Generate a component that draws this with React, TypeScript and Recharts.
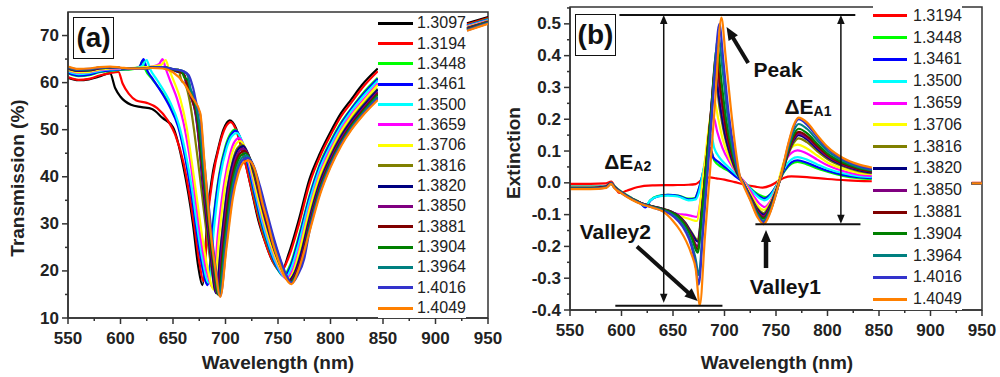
import React from 'react';
import { LineChart, Line, XAxis, YAxis, Legend, ReferenceLine, ReferenceArea, ReferenceDot, Label } from 'recharts';

const FONT = 'Arial, "Liberation Sans", Helvetica, sans-serif';

const wavelengthTicks = [550, 575, 600, 625, 650, 675, 700, 725, 750, 775, 800, 825, 850, 875, 900, 925, 950];
const transTicks = [10, 15, 20, 25, 30, 35, 40, 45, 50, 55, 60, 65, 70];
const extTicks = [-0.4, -0.35, -0.3, -0.25, -0.2, -0.15, -0.1, -0.05, 0, 0.05, 0.1, 0.15, 0.2, 0.25, 0.3, 0.35, 0.4, 0.45, 0.5, 0.55];

const transLabels = ['1.3097', '1.3194', '1.3448', '1.3461', '1.3500', '1.3659', '1.3706', '1.3816', '1.3820', '1.3850', '1.3881', '1.3904', '1.3964', '1.4016', '1.4049'];
const transColors = ['#000000', '#ff0000', '#00ff00', '#0000ff', '#00ffff', '#ff00ff', '#ffff00', '#808000', '#000080', '#800080', '#800000', '#008000', '#008080', '#3333cc', '#ff8000'];
const extLabels = transLabels.slice(1);
const extColors = transColors.slice(1);

// (a) transmission (%) — [wavelength nm, T]
const t13097 = [[550,61],[560,60.5],[570,60.7],[580,61.3],[590,62],[595,58.8],[600,57],[610,55.3],[620,54.8],[630,54.4],[640,52.5],[650,50.5],[660,42],[669,30],[674,21],[678,17],[683,32],[688,41],[692,45],[698,50],[704,52],[710,50.3],[715,46.5],[720,42],[725,37],[731,31],[738,26],[745,22],[750,20.6],[754,20.2],[760,23.5],[770,31],[780,39.5],[790,45],[800,49.5],[810,53.5],[820,56.5],[830,59.5],[845,63],[890,null],[930,72.6],[950,73.9]];
const t13194 = [[550,61.2],[560,60.6],[570,60.8],[580,61.5],[590,62],[598,62.3],[602,59.8],[608,57.6],[615,56.2],[625,55.7],[635,54.6],[645,52],[652,49],[660,43],[670,30],[675,22],[679,17.8],[683,31],[688,40],[694,46.5],[700,50.5],[705,51.6],[710,50],[716,45.5],[722,40],[730,32.5],[738,26],[745,22],[749,20.5],[753,19.9],[760,22.8],[770,30],[780,38.5],[790,44.3],[800,48.8],[810,52.8],[820,55.8],[830,58.8],[845,62.4],[890,null],[930,72.4],[950,73.7]];
const t13448 = [[550,62],[560,61.4],[570,61.6],[580,62.2],[590,62.5],[600,62.7],[610,62.8],[618,63.2],[621,64.6],[624,62.6],[630,60.8],[640,57.8],[647,55.2],[655,51],[662,44],[668,36],[673,28],[678,21],[683,17.2],[688,30],[694,40.5],[700,46.5],[705,49.2],[709,50],[714,48.2],[720,43.5],[727,36.5],[734,30],[741,25],[748,21],[755,19],[762,21.5],[770,27.5],[780,36],[790,42.8],[800,47.5],[810,51.5],[820,54.6],[830,57.5],[845,61],[890,null],[930,72.2],[950,73.5]];
const t13461 = [[550,62.1],[560,61.5],[570,61.7],[580,62.3],[590,62.6],[600,62.8],[610,62.9],[618,63.4],[622,65],[625,62.8],[630,61],[640,57.6],[647,54.8],[655,50.6],[662,43.6],[668,35.6],[673,27.6],[678,20.8],[683,17],[688,29.5],[694,40],[700,46],[705,48.8],[710,49.8],[715,47.8],[720,43.8],[727,37],[734,30.5],[741,25.3],[748,21.2],[756,18.8],[762,21],[770,27],[780,35.6],[790,42.4],[800,47.2],[810,51.2],[820,54.4],[830,57.2],[845,60.8],[890,null],[930,72.1],[950,73.4]];
const t13500 = [[550,62.4],[560,61.8],[570,62],[580,62.5],[590,62.8],[600,62.9],[610,63],[620,63.4],[625,64.8],[628,63],[635,60.5],[642,58],[648,55.5],[655,51.5],[662,45],[668,37.5],[673,29.5],[678,22.5],[684,17.5],[689,29],[695,40],[701,46],[706,48.6],[711,49.3],[716,47.5],[722,43],[728,37],[735,30.5],[742,25.2],[749,21.2],[757,18.5],[763,20.8],[770,26],[780,34.8],[790,41.8],[800,46.6],[810,50.7],[820,54],[830,56.8],[845,60.4],[890,null],[930,72],[950,73.3]];
const t13659 = [[550,62.6],[560,62.1],[570,62.2],[580,62.7],[590,62.9],[600,63],[610,63],[620,63.1],[630,63.4],[637,64],[640,65],[643,63],[648,60],[654,56.5],[660,51.5],[666,44],[671,36],[676,27.5],[681,21],[688,16.5],[693,28.5],[699,39],[704,44.5],[708,47.2],[713,48.2],[718,46.3],[724,41.5],[730,36],[737,29.8],[744,24.8],[751,20.8],[758,18.3],[764,20.2],[770,24.5],[780,33.5],[790,40.8],[800,45.8],[810,50],[820,53.3],[830,56],[845,59.8],[890,null],[930,71.9],[950,73.2]];
const t13706 = [[550,62.7],[560,62.2],[570,62.3],[580,62.8],[590,63],[600,63.1],[610,63.1],[620,63.2],[630,63.4],[639,63.8],[643,64.8],[646,63],[651,60.2],[657,56.5],[663,50.5],[668,43],[673,35],[678,27],[683,20.5],[689,16],[694,27.5],[700,38.5],[705,44],[709,46.6],[714,47.6],[719,46],[725,41.2],[731,35.5],[738,29.5],[745,24.5],[752,20.6],[759,18.2],[765,20],[770,23.8],[780,33],[790,40.3],[800,45.3],[810,49.6],[820,52.9],[830,55.6],[845,59.5],[890,null],[930,71.8],[950,73.1]];
const t13816 = [[550,63],[560,62.5],[570,62.6],[580,63],[590,63.2],[600,63.1],[610,62.9],[620,62.9],[630,63.3],[640,63.3],[650,62.6],[655,62.8],[658,60.5],[662,59.5],[666,56],[670,50],[674,43],[678,35.5],[682,28],[686,21.5],[691,15.5],[696,26.5],[702,38],[707,43.5],[711,46],[716,46.8],[721,45],[727,40.5],[733,35],[740,29],[747,24],[754,20.2],[760,18],[766,19.8],[772,24],[780,31.5],[790,39.2],[800,44.5],[810,48.8],[820,52.2],[830,55],[845,58.7],[890,null],[930,71.6],[950,73]];
const t13820 = [[550,63],[560,62.5],[570,62.6],[580,63],[590,63.2],[600,63.1],[610,62.9],[620,62.9],[630,63.2],[640,63.3],[650,62.7],[655,62.3],[659,62.5],[663,59.5],[667,57],[671,54],[674,49],[678,39],[682,30.5],[686,23],[691,15.3],[696,26],[702,37.5],[707,43],[712,45.8],[717,46.5],[722,44.6],[728,40],[734,34.5],[741,28.6],[748,23.6],[755,19.8],[760,17.9],[766,19.6],[772,23.6],[780,31],[790,38.8],[800,44.1],[810,48.5],[820,51.9],[830,54.7],[845,58.5],[890,null],[930,71.6],[950,72.9]];
const t13850 = [[550,63.1],[560,62.6],[570,62.7],[580,63.1],[590,63.3],[600,63.1],[610,62.9],[620,62.9],[630,63.2],[640,63.3],[650,62.7],[656,62.5],[660,61.8],[664,59],[668,56.5],[672,53],[675,47],[679,38],[683,30],[687,22.5],[692,15.2],[697,26],[703,37.2],[708,42.7],[713,45.4],[717,46],[723,44],[729,39.4],[735,34],[742,28.2],[749,23.2],[755,19.8],[761,17.8],[767,19.5],[773,23.4],[780,30.3],[790,38.2],[800,43.6],[810,48],[820,51.4],[830,54.2],[845,58],[890,null],[930,71.5],[950,72.9]];
const t13881 = [[550,63.1],[560,62.6],[570,62.7],[580,63.1],[590,63.3],[600,63.1],[610,62.9],[620,62.9],[630,63.2],[640,63.3],[650,62.8],[657,62.2],[661,61.5],[665,58.5],[669,56],[673,52.5],[676,46],[680,37.5],[684,29.5],[688,22],[693,15],[698,25.8],[704,37],[709,42.4],[714,45],[718,45.5],[724,43.5],[730,39],[736,33.6],[743,27.8],[750,22.8],[756,19.6],[761,17.7],[767,19.3],[773,23],[780,29.8],[790,37.8],[800,43.2],[810,47.6],[820,51.1],[830,53.9],[845,57.7],[890,null],[930,71.4],[950,72.8]];
const t13904 = [[550,63.2],[560,62.7],[570,62.8],[580,63.2],[590,63.3],[600,63.1],[610,62.9],[620,62.9],[630,63.2],[640,63.3],[650,62.8],[658,62.5],[661,61],[664,60.6],[667,58],[671,55.5],[674,51.5],[677,45],[681,36.5],[685,28.5],[689,21],[693,15],[699,26],[705,37],[710,42.2],[715,44.6],[719,45],[725,43],[731,38.5],[737,33.2],[744,27.5],[751,22.6],[757,19.3],[762,17.6],[768,19.4],[774,23],[780,29.4],[790,37.4],[800,42.9],[810,47.3],[820,50.8],[830,53.6],[845,57.4],[890,null],[930,71.3],[950,72.8]];
const t13964 = [[550,63.2],[560,62.7],[570,62.8],[580,63.2],[590,63.3],[600,63.1],[610,62.9],[620,62.9],[630,63.2],[640,63.3],[650,62.9],[660,62.4],[664,61.5],[667,58.5],[670,57.2],[673,54],[676,50],[679,42.5],[683,34],[687,26],[690,20.5],[694,14.8],[700,26],[706,36.8],[711,41.8],[716,44.1],[720,44.5],[726,42.6],[732,38.2],[738,33],[745,27.3],[752,22.4],[757,19.3],[762,17.5],[768,19.2],[774,22.7],[780,29],[790,37],[800,42.6],[810,47],[820,50.5],[830,53.3],[845,57],[890,null],[930,71.2],[950,72.7]];
const t14016 = [[550,63.3],[560,62.8],[570,62.9],[580,63.2],[590,63.3],[600,63.1],[610,62.9],[620,62.9],[630,63.2],[640,63.3],[650,62.9],[660,62.4],[665,61.6],[669,59],[673,55],[676,53],[679,45],[683,36],[687,27.5],[691,20],[695,14.6],[701,26],[707,36.6],[712,41.5],[717,43.7],[721,44],[727,42.2],[733,37.9],[739,32.8],[746,27],[753,22],[758,19.1],[763,17.4],[769,19.2],[775,22.6],[780,28.5],[790,36.6],[800,42.3],[810,46.8],[820,50.2],[830,53],[845,56.7],[890,null],[930,71.1],[950,72.6]];
const t14049 = [[550,63.4],[560,62.9],[570,63],[580,63.3],[590,63.4],[600,63.2],[610,63],[620,63],[630,63.1],[640,63],[650,62.2],[660,60],[668,57],[676,53.5],[680,43],[685,30],[690,21],[695,14.5],[701,25],[707,35.5],[712,40.5],[717,43],[722,43.5],[728,41.5],[735,34.5],[740,30.5],[745,26],[750,22.5],[756,19],[763,17.2],[770,20.5],[780,28.3],[790,36.2],[800,42],[810,46.5],[820,50],[830,52.8],[845,56.3],[890,null],[930,71],[950,72.5]];

// (b) extinction — [wavelength nm, E]
const e13194 = [[550,-0.003],[570,-0.003],[585,-0.002],[590,0.004],[594,-0.015],[598,-0.032],[605,-0.025],[615,-0.014],[630,-0.008],[650,-0.007],[665,-0.006],[672,-0.004],[678,0.01],[686,0.017],[692,0.014],[700,0.01],[710,0.002],[720,-0.006],[730,-0.012],[737,-0.015],[745,-0.008],[752,0.005],[758,0.016],[765,0.02],[780,0.018],[800,0.012],[820,0.008],[843,0.005],[890,null],[940,0],[950,0]];
const e13448 = [[550,-0.012],[570,-0.012],[585,-0.01],[590,0],[593,-0.01],[600,-0.028],[610,-0.048],[618,-0.062],[623,-0.075],[628,-0.055],[635,-0.042],[645,-0.038],[655,-0.04],[665,-0.05],[671,-0.048],[675,-0.02],[680,0.04],[685,0.09],[687,0.1],[690,0.07],[697,0.05],[705,0.035],[712,0.02],[720,0],[728,-0.025],[735,-0.04],[740,-0.045],[746,-0.03],[752,0],[758,0.035],[765,0.06],[771,0.066],[780,0.058],[790,0.045],[800,0.035],[815,0.022],[830,0.015],[843,0.012],[890,null],[940,-0.002],[950,-0.002]];
const e13461 = [[550,-0.013],[570,-0.013],[585,-0.011],[590,0],[593,-0.011],[600,-0.029],[610,-0.049],[618,-0.063],[623,-0.077],[628,-0.056],[635,-0.043],[645,-0.038],[655,-0.041],[665,-0.052],[671,-0.05],[675,-0.02],[680,0.045],[684,0.1],[686,0.11],[689,0.08],[694,0.066],[702,0.045],[710,0.022],[720,-0.002],[728,-0.028],[734,-0.043],[739,-0.05],[745,-0.035],[752,0],[758,0.038],[765,0.064],[771,0.071],[780,0.063],[790,0.05],[800,0.038],[815,0.025],[830,0.018],[843,0.015],[890,null],[940,-0.002],[950,-0.002]];
const e13500 = [[550,-0.014],[570,-0.014],[585,-0.011],[590,0],[593,-0.011],[600,-0.029],[610,-0.049],[618,-0.063],[623,-0.072],[628,-0.055],[635,-0.043],[645,-0.04],[655,-0.043],[665,-0.055],[672,-0.052],[676,-0.02],[680,0.05],[684,0.12],[687,0.15],[690,0.11],[695,0.08],[702,0.055],[710,0.03],[720,0],[728,-0.03],[734,-0.048],[739,-0.055],[745,-0.04],[752,0],[758,0.045],[765,0.074],[771,0.081],[780,0.073],[790,0.058],[800,0.044],[815,0.03],[830,0.021],[843,0.018],[890,null],[940,-0.002],[950,-0.002]];
const e13659 = [[550,-0.015],[570,-0.015],[585,-0.012],[590,-0.001],[593,-0.012],[600,-0.03],[610,-0.05],[620,-0.065],[630,-0.075],[640,-0.085],[648,-0.092],[655,-0.098],[662,-0.1],[668,-0.104],[673,-0.107],[677,-0.05],[681,0.06],[685,0.15],[689,0.21],[693,0.16],[698,0.11],[705,0.065],[712,0.03],[720,0],[728,-0.04],[734,-0.066],[739,-0.076],[745,-0.055],[752,0],[758,0.06],[765,0.094],[771,0.102],[780,0.092],[790,0.073],[800,0.055],[815,0.037],[830,0.026],[843,0.022],[890,null],[940,-0.002],[950,-0.002]];
const e13706 = [[550,-0.015],[570,-0.015],[585,-0.012],[590,-0.001],[593,-0.012],[600,-0.03],[610,-0.05],[620,-0.065],[630,-0.075],[640,-0.085],[648,-0.093],[655,-0.102],[662,-0.11],[668,-0.116],[673,-0.12],[677,-0.05],[681,0.07],[685,0.18],[690,0.26],[694,0.2],[698,0.14],[705,0.075],[712,0.032],[719,0],[727,-0.045],[733,-0.075],[738,-0.085],[744,-0.065],[751,-0.01],[757,0.06],[764,0.108],[771,0.12],[780,0.108],[790,0.086],[800,0.064],[815,0.044],[830,0.031],[843,0.027],[890,null],[940,-0.002],[950,-0.002]];
const e13816 = [[550,-0.016],[570,-0.016],[585,-0.012],[590,-0.001],[593,-0.012],[600,-0.03],[610,-0.05],[620,-0.065],[630,-0.074],[640,-0.082],[648,-0.09],[655,-0.102],[662,-0.125],[668,-0.155],[674,-0.18],[678,-0.08],[682,0.05],[686,0.18],[691,0.33],[695,0.24],[700,0.15],[706,0.08],[712,0.03],[718,0],[725,-0.04],[732,-0.08],[738,-0.095],[744,-0.07],[750,-0.025],[755,0.02],[762,0.09],[767,0.125],[772,0.14],[780,0.128],[790,0.1],[800,0.075],[815,0.052],[830,0.037],[843,0.03],[890,null],[940,-0.002],[950,-0.002]];
const e13820 = [[550,-0.016],[570,-0.016],[585,-0.012],[590,-0.001],[593,-0.012],[600,-0.03],[610,-0.05],[620,-0.065],[630,-0.074],[640,-0.082],[648,-0.09],[655,-0.103],[662,-0.127],[668,-0.158],[674,-0.185],[678,-0.085],[682,0.05],[686,0.19],[691,0.35],[695,0.26],[700,0.16],[706,0.085],[712,0.032],[718,0],[725,-0.042],[732,-0.084],[738,-0.1],[744,-0.074],[750,-0.026],[755,0.021],[762,0.095],[767,0.133],[772,0.15],[780,0.137],[790,0.107],[800,0.08],[815,0.055],[830,0.04],[843,0.032],[890,null],[940,-0.002],[950,-0.002]];
const e13850 = [[550,-0.017],[570,-0.017],[585,-0.013],[590,-0.001],[593,-0.013],[600,-0.03],[610,-0.05],[620,-0.065],[630,-0.074],[640,-0.083],[648,-0.092],[655,-0.105],[662,-0.13],[668,-0.165],[674,-0.2],[678,-0.09],[682,0.05],[687,0.22],[692,0.38],[696,0.28],[701,0.17],[707,0.088],[713,0.03],[718,0],[725,-0.044],[732,-0.088],[738,-0.105],[744,-0.078],[750,-0.028],[755,0.022],[762,0.098],[767,0.138],[772,0.155],[780,0.142],[790,0.112],[800,0.084],[815,0.058],[830,0.043],[843,0.035],[890,null],[940,-0.002],[950,-0.002]];
const e13881 = [[550,-0.017],[570,-0.017],[585,-0.013],[590,-0.001],[593,-0.013],[600,-0.03],[610,-0.05],[620,-0.065],[630,-0.075],[640,-0.083],[648,-0.092],[655,-0.106],[662,-0.132],[668,-0.168],[674,-0.21],[678,-0.095],[682,0.05],[687,0.23],[692,0.4],[696,0.3],[701,0.18],[707,0.09],[713,0.03],[718,0],[725,-0.046],[732,-0.092],[738,-0.11],[744,-0.082],[750,-0.03],[755,0.022],[762,0.1],[767,0.142],[772,0.16],[780,0.147],[790,0.116],[800,0.087],[815,0.06],[830,0.044],[843,0.036],[890,null],[940,-0.002],[950,-0.002]];
const e13904 = [[550,-0.018],[570,-0.018],[585,-0.014],[590,-0.002],[593,-0.014],[600,-0.031],[610,-0.051],[620,-0.066],[630,-0.075],[640,-0.084],[648,-0.093],[655,-0.107],[662,-0.135],[668,-0.172],[674,-0.22],[678,-0.1],[682,0.04],[687,0.22],[693,0.43],[697,0.32],[702,0.19],[708,0.09],[714,0.025],[718,0],[725,-0.048],[732,-0.095],[738,-0.113],[744,-0.085],[750,-0.031],[755,0.023],[762,0.105],[767,0.15],[772,0.17],[780,0.156],[790,0.123],[800,0.092],[815,0.064],[830,0.047],[843,0.038],[890,null],[940,-0.002],[950,-0.002]];
const e13964 = [[550,-0.018],[570,-0.018],[585,-0.014],[590,-0.002],[593,-0.014],[600,-0.031],[610,-0.051],[620,-0.066],[630,-0.076],[640,-0.086],[648,-0.097],[655,-0.115],[662,-0.145],[668,-0.19],[672,-0.24],[675,-0.29],[679,-0.14],[683,0.03],[688,0.24],[694,0.46],[698,0.36],[703,0.21],[709,0.09],[714,0.025],[718,0],[725,-0.05],[732,-0.1],[738,-0.12],[744,-0.09],[750,-0.033],[755,0.024],[762,0.112],[767,0.162],[772,0.185],[780,0.17],[790,0.134],[800,0.1],[815,0.069],[830,0.05],[843,0.04],[890,null],[940,-0.002],[950,-0.002]];
const e14016 = [[550,-0.019],[570,-0.019],[585,-0.015],[590,-0.002],[593,-0.015],[600,-0.032],[610,-0.052],[620,-0.067],[630,-0.077],[640,-0.088],[648,-0.1],[655,-0.12],[662,-0.152],[668,-0.2],[672,-0.26],[675,-0.32],[679,-0.16],[684,0.05],[689,0.27],[695,0.5],[699,0.38],[704,0.22],[710,0.09],[715,0.02],[718,0],[725,-0.052],[732,-0.104],[738,-0.125],[744,-0.094],[750,-0.035],[755,0.025],[762,0.12],[767,0.175],[772,0.2],[780,0.183],[790,0.144],[800,0.108],[815,0.074],[830,0.054],[843,0.043],[890,null],[940,-0.002],[950,-0.002]];
const e14049 = [[550,-0.02],[570,-0.02],[585,-0.016],[590,-0.003],[593,-0.016],[600,-0.033],[610,-0.053],[620,-0.068],[630,-0.078],[640,-0.09],[650,-0.12],[657,-0.15],[663,-0.185],[668,-0.225],[672,-0.27],[676,-0.385],[681,-0.17],[686,0.04],[691,0.26],[697,0.52],[701,0.4],[706,0.24],[711,0.1],[715,0.02],[718,-0.005],[725,-0.055],[732,-0.108],[738,-0.13],[744,-0.097],[750,-0.036],[755,0.026],[762,0.124],[767,0.18],[772,0.205],[780,0.19],[790,0.15],[800,0.113],[815,0.078],[830,0.058],[843,0.048],[890,null],[940,-0.002],[950,-0.002]];

const transSeries = [t13097, t13194, t13448, t13461, t13500, t13659, t13706, t13816, t13820, t13850, t13881, t13904, t13964, t14016, t14049];
const extSeries = [e13194, e13448, e13461, e13500, e13659, e13706, e13816, e13820, e13850, e13881, e13904, e13964, e14016, e14049];

const toRows = (pts: (number | null)[][]) => pts.map(([w, v]) => ({ w, v }));

const tickText = { fontFamily: FONT, fontSize: 17, fontWeight: 700, fill: '#222' };
const titleText = { fontFamily: FONT, fontSize: 19, fontWeight: 700, fill: '#222' };
const noteText = { fontFamily: FONT, fontSize: 21, fontWeight: 700, fill: '#111' };
const axisColor = '#333';

const XTick = ({ x, y, payload }: any) => {
  const major = payload.value % 50 === 0;
  return (
    <g>
      <line x1={x} y1={y} x2={x} y2={y + (major ? 6 : 3)} stroke={axisColor} strokeWidth={1.5} />
      {major && <text x={x} y={y + 20} textAnchor="middle" dominantBaseline="central" style={tickText}>{payload.value}</text>}
    </g>
  );
};

const TransTick = ({ x, y, payload }: any) => {
  const major = payload.value % 10 === 0;
  return (
    <g>
      <line x1={x} y1={y} x2={x - (major ? 6 : 3)} y2={y} stroke={axisColor} strokeWidth={1.5} />
      {major && <text x={x - 9} y={y} textAnchor="end" dominantBaseline="central" style={tickText}>{payload.value}</text>}
    </g>
  );
};

const ExtTick = ({ x, y, payload }: any) => {
  const k = Math.round(payload.value * 100);
  const major = k % 10 === 0 && k <= 50;
  return (
    <g>
      <line x1={x} y1={y} x2={x - (major ? 6 : 3)} y2={y} stroke={axisColor} strokeWidth={1.5} />
      {major && <text x={x - 9} y={y} textAnchor="end" dominantBaseline="central" style={tickText}>{(k / 100).toFixed(1)}</text>}
    </g>
  );
};

const legendContent = (rowH: number, swatch: number, gap: number) => ({ payload }: any) => (
  <div style={{ background: '#fff' }}>
    {(payload || []).map((e: any) => (
      <div key={e.value} style={{ display: 'flex', alignItems: 'center', height: rowH }}>
        <span style={{ display: 'inline-block', width: swatch, height: 3, background: e.color, marginRight: gap }} />
        <span style={{ fontFamily: FONT, fontSize: 16, color: '#222', lineHeight: 1 }}>{e.value}</span>
      </div>
    ))}
  </div>
);

// line with filled arrowhead(s); first segment point is the tail
const Arrow = ({ x1, y1, x2, y2, w, head, both }: any) => {
  const len = Math.hypot(x2 - x1, y2 - y1) || 1;
  const ux = (x2 - x1) / len;
  const uy = (y2 - y1) / len;
  const half = head * 0.42;
  const tri = (tx: number, ty: number, d: number) => {
    const bx = tx - d * ux * head;
    const by = ty - d * uy * head;
    return `${tx},${ty} ${bx - uy * half},${by + ux * half} ${bx + uy * half},${by - ux * half}`;
  };
  const sx = both ? x1 + ux * head * 0.8 : x1;
  const sy = both ? y1 + uy * head * 0.8 : y1;
  return (
    <g>
      <line x1={sx} y1={sy} x2={x2 - ux * head * 0.8} y2={y2 - uy * head * 0.8} stroke="#111" strokeWidth={w} />
      <polygon points={tri(x2, y2, 1)} fill="#111" />
      {both && <polygon points={tri(x1, y1, -1)} fill="#111" />}
    </g>
  );
};

const Note = ({ cx, cy, text, sub }: any) => (
  <text x={cx} y={cy} textAnchor="middle" dominantBaseline="central" style={noteText}>
    {text}
    {sub && <tspan fontSize={14} dy={4}>{sub}</tspan>}
  </text>
);

const PanelTag = ({ left, top, text }: any) => (
  <div style={{
    position: 'absolute', left, top, width: 39, height: 40, border: '1.5px solid #111', background: '#fff',
    fontFamily: FONT, fontWeight: 700, fontSize: 28, lineHeight: '40px', textAlign: 'center', color: '#111',
  }}>{text}</div>
);

const App = () => {
  return (
    <div style={{ position: 'absolute', left: 0, top: 0, width: 1000, height: 377, background: '#fff', overflow: 'hidden' }}>
      {/* (a) transmission */}
      <div style={{ position: 'absolute', left: 0, top: 0 }}>
        <LineChart width={515} height={377} margin={{ top: 12, right: 27, bottom: 0, left: 8 }}>
          <XAxis dataKey="w" type="number" domain={[550, 950]} ticks={wavelengthTicks} interval={0} height={59}
            allowDataOverflow stroke={axisColor} strokeWidth={1.5} tickSize={0} tickMargin={0} tickLine={false} tick={(p: any) => <XTick {...p} />}>
            <Label content={() => <text x={278} y={362} textAnchor="middle" dominantBaseline="central" style={titleText}>Wavelength (nm)</text>} />
          </XAxis>
          <YAxis type="number" domain={[10, 75]} ticks={transTicks} interval={0} width={60}
            allowDataOverflow stroke={axisColor} strokeWidth={1.5} tickSize={0} tickMargin={0} tickLine={false} tick={(p: any) => <TransTick {...p} />}>
            <Label content={() => <text x={17} y={178} transform="rotate(-90 17 178)" textAnchor="middle" dominantBaseline="central" style={titleText}>Transmission (%)</text>} />
          </YAxis>
          <ReferenceArea x1={550} x2={950} y1={10} y2={75} fill="none" stroke={axisColor} strokeWidth={1.5} />
          {transSeries.map((s, i) => (
            <Line key={transLabels[i]} data={toRows(s)} dataKey="v" name={transLabels[i]} type="monotone"
              stroke={transColors[i]} strokeWidth={2.2} dot={false} isAnimationActive={false} />
          ))}
          <Legend layout="vertical" align="center" verticalAlign="middle" content={legendContent(20.36, 35, 4)}
            wrapperStyle={{ left: 378, top: 13, width: 'auto' }} />
        </LineChart>
        <PanelTag left={73} top={17} text="(a)" />
      </div>

      {/* (b) extinction */}
      <div style={{ position: 'absolute', left: 500, top: 0 }}>
        <LineChart width={500} height={377} margin={{ top: 7, right: 18, bottom: 0, left: 8 }}>
          <XAxis dataKey="w" type="number" domain={[550, 950]} ticks={wavelengthTicks} interval={0} height={67}
            allowDataOverflow stroke={axisColor} strokeWidth={1.5} tickSize={0} tickMargin={0} tickLine={false} tick={(p: any) => <XTick {...p} />}>
            <Label content={() => <text x={277} y={362} textAnchor="middle" dominantBaseline="central" style={titleText}>Wavelength (nm)</text>} />
          </XAxis>
          <YAxis type="number" domain={[-0.4, 0.553]} ticks={extTicks} interval={0} width={62}
            allowDataOverflow stroke={axisColor} strokeWidth={1.5} tickSize={0} tickMargin={0} tickLine={false} tick={(p: any) => <ExtTick {...p} />}>
            <Label content={() => <text x={13} y={153} transform="rotate(-90 13 153)" textAnchor="middle" dominantBaseline="central" style={titleText}>Extinction</text>} />
          </YAxis>
          <ReferenceArea x1={550} x2={950} y1={-0.4} y2={0.553} fill="none" stroke={axisColor} strokeWidth={1.5} />
          {extSeries.map((s, i) => (
            <Line key={extLabels[i]} data={toRows(s)} dataKey="v" name={extLabels[i]} type="monotone"
              stroke={extColors[i]} strokeWidth={2.2} dot={false} isAnimationActive={false} />
          ))}

          <ReferenceLine segment={[{ x: 598, y: 0.528 }, { x: 827, y: 0.528 }]} stroke="#111" strokeWidth={2} />
          <ReferenceLine segment={[{ x: 594, y: -0.387 }, { x: 698, y: -0.387 }]} stroke="#111" strokeWidth={2} />
          <ReferenceLine segment={[{ x: 730, y: -0.13 }, { x: 832, y: -0.13 }]} stroke="#111" strokeWidth={2} />
          <ReferenceLine segment={[{ x: 641, y: 0.528 }, { x: 641, y: -0.377 }]} shape={(p: any) => <Arrow {...p} w={1.5} head={9} both />} />
          <ReferenceLine segment={[{ x: 813, y: 0.528 }, { x: 813, y: -0.129 }]} shape={(p: any) => <Arrow {...p} w={1.5} head={9} both />} />
          <ReferenceLine segment={[{ x: 723, y: 0.377 }, { x: 702, y: 0.49 }]} shape={(p: any) => <Arrow {...p} w={4} head={13} />} />
          <ReferenceLine segment={[{ x: 615, y: -0.2 }, { x: 674, y: -0.372 }]} shape={(p: any) => <Arrow {...p} w={4} head={13} />} />
          <ReferenceLine segment={[{ x: 740.3, y: -0.268 }, { x: 740.3, y: -0.148 }]} shape={(p: any) => <Arrow {...p} w={4.5} head={12} />} />

          <ReferenceDot x={752} y={0.355} shape={(p: any) => <Note {...p} text="Peak" />} />
          <ReferenceDot x={781} y={0.239} shape={(p: any) => <Note {...p} text="ΔE" sub="A1" />} />
          <ReferenceDot x={606} y={0.066} shape={(p: any) => <Note {...p} text="ΔE" sub="A2" />} />
          <ReferenceDot x={594} y={-0.154} shape={(p: any) => <Note {...p} text="Valley2" />} />
          <ReferenceDot x={759} y={-0.327} shape={(p: any) => <Note {...p} text="Valley1" />} />

          <Legend layout="vertical" align="center" verticalAlign="middle" content={legendContent(21.8, 34, 6)}
            wrapperStyle={{ left: 373, top: 5, width: 'auto' }} />
        </LineChart>
        <PanelTag left={75} top={14} text="(b)" />
      </div>
    </div>
  );
};

export default App;
